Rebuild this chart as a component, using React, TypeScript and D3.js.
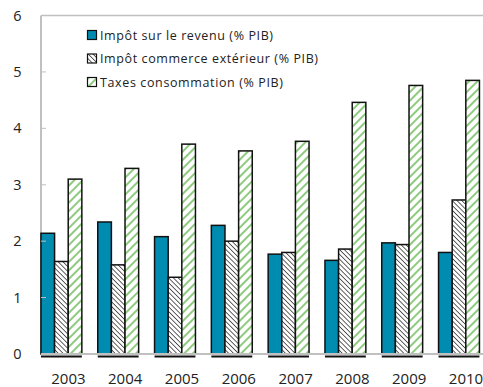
import React from "react";
import * as d3 from "d3";

const years = ["2003", "2004", "2005", "2006", "2007", "2008", "2009", "2010"];
const seriesNames = [
  "Impôt sur le revenu (% PIB)",
  "Impôt commerce extérieur (% PIB)",
  "Taxes consommation (% PIB)",
];
const impotRevenu = [2.14, 2.34, 2.08, 2.28, 1.77, 1.66, 1.97, 1.8];
const impotCommerce = [1.64, 1.58, 1.36, 2.0, 1.8, 1.86, 1.94, 2.73];
const taxesConso = [3.1, 3.29, 3.72, 3.6, 3.77, 4.46, 4.76, 4.85];
const yTicks = [0, 1, 2, 3, 4, 5, 6];

const W = 483;
const H = 387;

export default function App() {
  const y = d3.scaleLinear().domain([0, 6]).range([354, 15.5]);
  const x = d3.scaleBand().domain(years).range([33, 33 + 8 * 56.8]).paddingInner(0.28).paddingOuter(0.14);
  const inner = d3.scaleBand().domain(["a", "b", "c"]).range([0, x.bandwidth()]);
  const series = [impotRevenu, impotCommerce, taxesConso];
  const fills = ["#008bb0", "url(#hatchDark)", "url(#hatchGreen)"];
  const keys = ["a", "b", "c"];
  const legendWidths = [173, 218, 183];
  const font = "'Open Sans', 'DejaVu Sans', sans-serif";

  return (
    <svg width={W} height={H} style={{ position: "absolute", left: 0, top: 0, background: "#fff" }}>
      <defs>
        <pattern id="hatchDark" patternUnits="userSpaceOnUse" width="3.4" height="3.4" patternTransform="rotate(-45)">
          <rect width="3.4" height="3.4" fill="#fff" />
          <line x1="0" y1="0" x2="0" y2="3.4" stroke="#3a3a3a" strokeWidth="1.6" />
        </pattern>
        <pattern id="hatchGreen" patternUnits="userSpaceOnUse" width="6" height="6" patternTransform="rotate(45)">
          <rect width="6" height="6" fill="#fff" />
          <line x1="0" y1="0" x2="0" y2="6" stroke="#8fcb7f" strokeWidth="4" />
        </pattern>
      </defs>
      {/* top border */}
      <line x1={41} x2={W} y1={y(6)} y2={y(6)} stroke="#c0c0c0" strokeWidth={1.5} />
      {/* y axis */}
      <line x1={41} x2={41} y1={y(6)} y2={y(0)} stroke="#c0c0c0" strokeWidth={2} />
      {yTicks.map((t) => (
        <text key={t} x={17.5} y={y(t) + 5} textAnchor="middle" fontSize={14.5} fontFamily={font} fill="#222">
          {t}
        </text>
      ))}
      {/* bars */}
      {years.map((yr, i) => (
        <g key={yr} transform={`translate(${x(yr)},0)`}>
          {series.map((s, j) => (
            <rect
              key={j}
              x={inner(keys[j])}
              y={y(s[i])}
              width={inner.bandwidth()}
              height={y(0) - y(s[i])}
              fill={fills[j]}
              stroke="#111"
              strokeWidth={1.5}
            />
          ))}
        </g>
      ))}
      {/* y ticks drawn over bars */}
      {yTicks.slice(1, 6).map((t) => (
        <line key={t} x1={41} x2={46} y1={y(t)} y2={y(t)} stroke="#c0c0c0" strokeWidth={1} />
      ))}
      {/* x axis */}
      <line x1={41} x2={W} y1={y(0)} y2={y(0)} stroke="#c0c0c0" strokeWidth={2} />
      {years.map((yr) => (
        <g key={yr}>
          <line x1={x(yr)!} x2={x(yr)! + x.bandwidth()} y1={356.5} y2={356.5} stroke="#111" strokeWidth={2} />
          <text x={x(yr)! + x.bandwidth() / 2 + 7} y={384} textAnchor="middle" fontSize={15} fontFamily={font} fill="#222">
            {yr}
          </text>
        </g>
      ))}
      {/* legend */}
      {seriesNames.map((n, j) => (
        <g key={n} transform={`translate(87.5,${30.5 + j * 23.5})`}>
          <rect x={0} y={0} width={9} height={9} fill={j === 0 ? "#008bb0" : fills[j]} stroke="#111" strokeWidth={1.2} />
          <text
            x={12.5}
            y={9}
            fontSize={12.5}
            fontFamily={font}
            fill="#222"
            textLength={legendWidths[j]}
            lengthAdjust="spacing"
          >
            {n}
          </text>
        </g>
      ))}
    </svg>
  );
}
